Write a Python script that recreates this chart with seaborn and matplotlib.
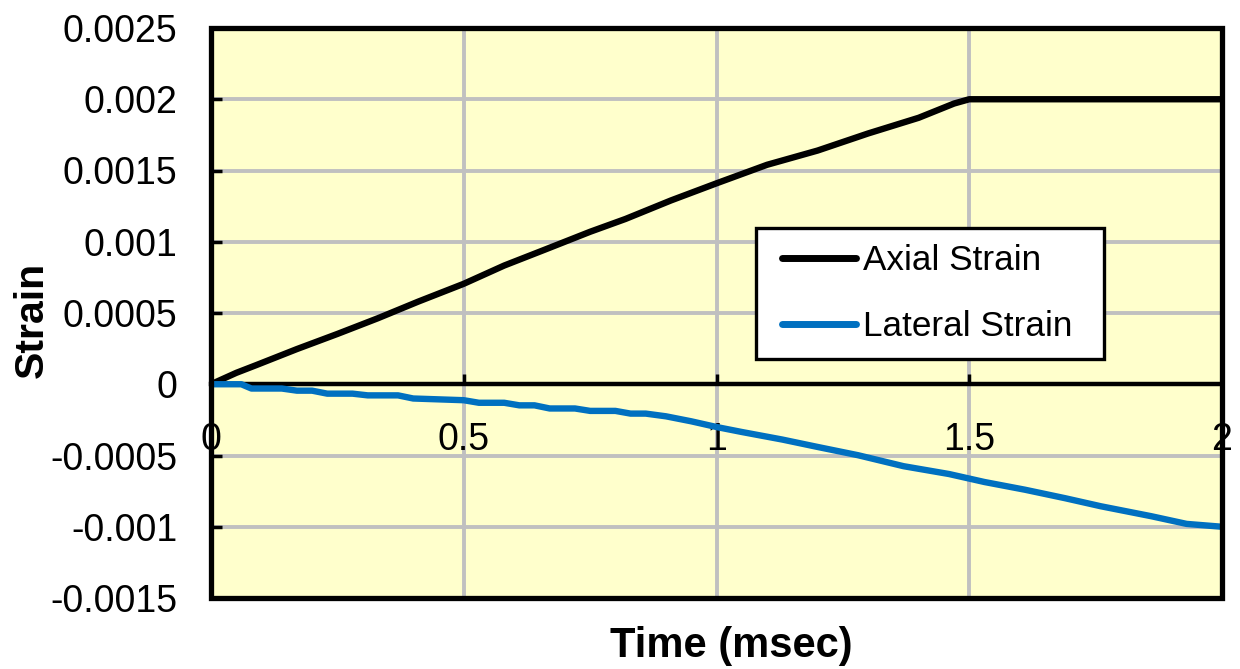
import matplotlib
matplotlib.use("Agg")
import matplotlib.pyplot as plt
import numpy as np
import pandas as pd
import seaborn as sns
from matplotlib.patches import Rectangle
from matplotlib.lines import Line2D
from matplotlib.legend_handler import HandlerLine2D

# ---------------- data ----------------
series_names = ["Axial Strain", "Lateral Strain"]

axial_time = [0, 0.05, 0.09, 0.17, 0.25, 0.33, 0.41, 0.5, 0.58, 0.66, 0.75,
              0.82, 0.91, 1.0, 1.1, 1.2, 1.3, 1.4, 1.47, 1.5, 2.0]
axial_strain = [0, 0.00008, 0.000135, 0.000247, 0.000353, 0.000463, 0.00058,
                0.000705, 0.000833, 0.000944, 0.00107, 0.00116, 0.00129,
                0.00141, 0.00154, 0.00164, 0.00176, 0.00187, 0.00197,
                0.002, 0.002]

lateral_time = [0, 0.06, 0.08, 0.14, 0.17, 0.2, 0.23, 0.28, 0.31, 0.37, 0.4,
                0.5, 0.53, 0.58, 0.61, 0.64, 0.67, 0.72, 0.75, 0.8, 0.83,
                0.86, 0.9, 0.95, 1.0, 1.05, 1.13, 1.2, 1.28, 1.37, 1.46,
                1.53, 1.61, 1.69, 1.76, 1.86, 1.93, 2.0]
lateral_strain = [0, 0, -0.00003, -0.00003, -0.000045, -0.000045, -0.000066,
                  -0.000066, -0.000078, -0.000078, -0.0001, -0.000112,
                  -0.00013, -0.00013, -0.000148, -0.000148, -0.00017,
                  -0.00017, -0.000187, -0.000187, -0.000206, -0.000206,
                  -0.000225, -0.00026, -0.0003, -0.000335, -0.000388,
                  -0.00044, -0.000498, -0.000575, -0.00063, -0.000686,
                  -0.00074, -0.0008, -0.000856, -0.000926, -0.00098, -0.001]

x_ticks = [0, 0.5, 1, 1.5, 2]
x_tick_labels = ["0", "0.5", "1", "1.5", "2"]
y_ticks = [0.0025, 0.002, 0.0015, 0.001, 0.0005, 0, -0.0005, -0.001, -0.0015]
y_tick_labels = ["0.0025", "0.002", "0.0015", "0.001", "0.0005", "0",
                 "-0.0005", "-0.001", "-0.0015"]

# ---------------- style ----------------
sns.set_theme(style="white")
plt.rcParams["font.family"] = ["Liberation Sans", "DejaVu Sans"]

df = pd.concat([
    pd.DataFrame({"Time": axial_time, "Strain": axial_strain,
                  "Series": series_names[0]}),
    pd.DataFrame({"Time": lateral_time, "Strain": lateral_strain,
                  "Series": series_names[1]}),
], ignore_index=True)

fig = plt.figure(figsize=(12.4, 6.69), dpi=100)
ax = fig.add_axes([211 / 1240, 71 / 669, 1011 / 1240, 570 / 669])
ax.set_facecolor("#FFFFCC")

sns.lineplot(data=df, x="Time", y="Strain", hue="Series",
             palette={series_names[0]: "#000000", series_names[1]: "#0070C0"},
             hue_order=series_names, estimator=None, sort=False,
             linewidth=4.6, ax=ax, zorder=3)
for ln in ax.lines:
    ln.set_solid_capstyle("round")
    ln.set_solid_joinstyle("round")

ax.set_xlim(0, 2)
ax.set_ylim(-0.0015, 0.0025)
ax.set_xticks(x_ticks, x_tick_labels)
ax.set_yticks(y_ticks, y_tick_labels)

ax.grid(True, color="#C0C0C0", linewidth=2.8)
ax.set_axisbelow(True)

for s in ["top", "right", "left"]:
    ax.spines[s].set_visible(False)
ax.spines["bottom"].set_position(("data", 0))
ax.spines["bottom"].set_linewidth(3.2)
ax.spines["bottom"].set_color("black")
ax.spines["bottom"].set_zorder(2.5)

ax.add_patch(Rectangle((0, 0), 1, 1, transform=ax.transAxes, fill=False,
                       edgecolor="black", linewidth=3.8, clip_on=False,
                       zorder=4))

ax.tick_params(axis="x", direction="in", length=7, width=2.5, pad=27,
               labelsize=27, colors="black", bottom=True)
ax.tick_params(axis="y", direction="in", length=8, width=2.5, pad=24,
               labelsize=27, colors="black", left=True)

ax.set_xlabel("Time (msec)", fontsize=30, fontweight="bold", color="black")
ax.xaxis.set_label_coords(0.515, -0.084)
ax.xaxis.label.set_va("center")
ax.set_ylabel("Strain", fontsize=29.5, fontweight="bold", color="black")
ax.yaxis.set_label_coords(-0.177, 0.488)
ax.yaxis.label.set_va("center")

leg_fs = 25.3
leg = ax.legend(title=None, loc="upper left",
                bbox_to_anchor=(0.539, 0.4176, 0.344, 0.232), mode="expand",
                frameon=True, fancybox=False, edgecolor="black",
                facecolor="white", framealpha=1, fontsize=leg_fs,
                labelcolor="black",
                handlelength=2.39, handletextpad=0.2, borderpad=0.47,
                labelspacing=0.93, borderaxespad=0,
                handler_map={Line2D: HandlerLine2D(xpad=0.27)})
leg.get_frame().set_linewidth(2.4)
leg.set_zorder(6)
for h in leg.legend_handles:
    h.set_linewidth(5)
    h.set_solid_capstyle("round")

fig.savefig("out.png", dpi=100)
